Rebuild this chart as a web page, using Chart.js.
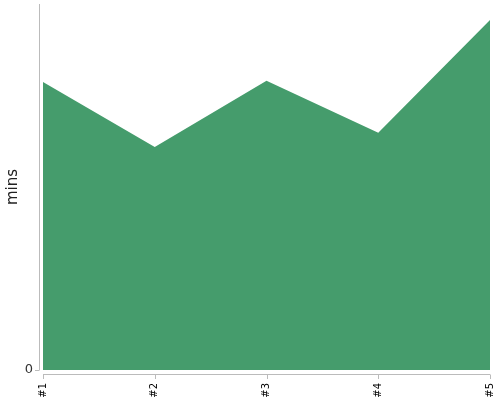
<!DOCTYPE html>
<html>
<head>
<meta charset="utf-8">
<script src="https://cdn.jsdelivr.net/npm/chart.js@4"></script>
<style>
  body { margin: 0; background: #fff; }
  #wrap { width: 500px; height: 400px; }
</style>
</head>
<body>
<div id="wrap"><canvas id="mycanvas" width="500" height="400"></canvas></div>
<script>
var labels = ['#1', '#2', '#3', '#4', '#5'];
var mins = [78.7, 60.9, 79.0, 64.8, 95.6];
var yTicks = [0];

// axis lines drawn a few pixels off the plot, like the original
var offsetAxes = {
	id: 'offsetAxes',
	afterDraw: function(chart) {
		var ctx = chart.ctx;
		var a = chart.chartArea;
		var x = chart.scales.x;
		var y = chart.scales.y;
		ctx.save();
		ctx.strokeStyle = '#bbbbbb';
		ctx.lineWidth = 1;
		ctx.beginPath();
		ctx.moveTo(a.left - 3.5, a.top);
		ctx.lineTo(a.left - 3.5, a.bottom);
		ctx.moveTo(a.left, a.bottom + 4.5);
		ctx.lineTo(a.right, a.bottom + 4.5);
		for (var i = 0; i < labels.length; i++) {
			var px = Math.round(x.getPixelForValue(i)) + 0.5;
			ctx.moveTo(px, a.bottom + 4.5);
			ctx.lineTo(px, a.bottom + 9);
		}
		yTicks.forEach(function(v) {
			var py = Math.round(y.getPixelForValue(v)) + 0.5;
			ctx.moveTo(a.left - 3.5, py);
			ctx.lineTo(a.left - 8, py);
		});
		ctx.stroke();
		ctx.restore();
	}
};

var ctx = document.getElementById('mycanvas');
var areaChart = new Chart(ctx, {
	type: 'line',
	data: {
		labels: labels,
		datasets: [{
			label: 'mins',
			data: mins,
			fill: 'origin',
			backgroundColor: '#459c6c',
			borderWidth: 0,
			pointRadius: 0,
			tension: 0
		}]
	},
	options: {
		responsive: false,
		animation: false,
		layout: { padding: { top: 4, right: 10, left: 0, bottom: 0 } },
		plugins: {
			legend: { display: false },
			tooltip: { enabled: false }
		},
		scales: {
			x: {
				grid: { display: false },
				border: { display: false },
				afterFit: function(scale) {
					scale.height = 30;
					scale.paddingLeft = 0;
					scale.paddingRight = 0;
				},
				ticks: {
					minRotation: 90,
					maxRotation: 90,
					padding: 5,
					color: '#000',
					font: { family: 'DejaVu Sans', size: 10 }
				}
			},
			y: {
				min: 0,
				max: 100,
				grid: { display: false },
				border: { display: false },
				afterBuildTicks: function(scale) {
					scale.ticks = yTicks.map(function(v) { return { value: v }; });
				},
				afterFit: function(scale) {
					scale.width = 43;
					scale.paddingTop = 0;
					scale.paddingBottom = 0;
				},
				ticks: {
					padding: 2,
					color: '#333',
					font: { family: 'DejaVu Sans', size: 13 }
				},
				title: {
					display: true,
					text: 'mins',
					color: '#222',
					font: { family: 'DejaVu Sans', size: 15 },
					padding: { top: 4, bottom: 0 }
				}
			}
		}
	},
	plugins: [offsetAxes]
});
</script>
</body>
</html>
